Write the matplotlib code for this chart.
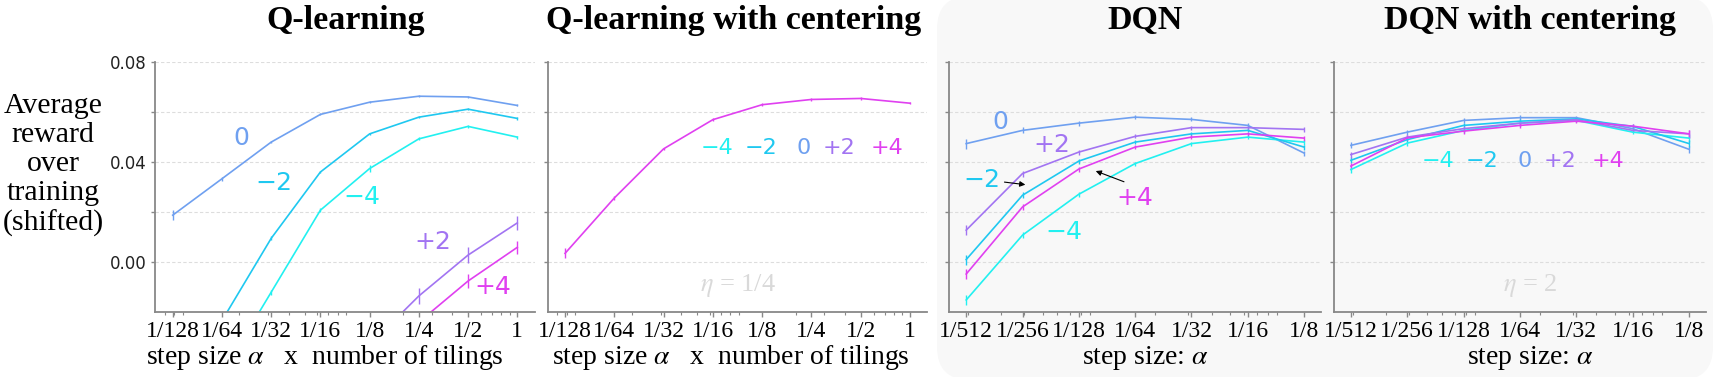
import matplotlib.pyplot as plt
from matplotlib.patches import FancyBboxPatch
from matplotlib.ticker import NullFormatter

plt.rc('font', family='Liberation Serif')
plt.rcParams['mathtext.fontset'] = 'stix'

# colours per eta shift
c_m4 = '#22f0f0'
c_m2 = '#1fc8f0'
c_0 = '#6fa0f0'
c_p2 = '#a274f2'
c_p4 = '#e040f0'

# ---- tabular Q-learning (x = step size * number of tilings)
q_x = [1/128, 1/64, 1/32, 1/16, 1/8, 1/4, 1/2, 1]
q_xlabels = ['1/128', '1/64', '1/32', '1/16', '1/8', '1/4', '1/2', '1']

q_zero = [0.0187, 0.0333, 0.0480, 0.0591, 0.0640, 0.0664, 0.0661, 0.0627]
q_minus2 = [-0.055, -0.0236, 0.0094, 0.0360, 0.0513, 0.0580, 0.0612, 0.0575]
q_minus4 = [-0.080, -0.045, -0.0122, 0.0207, 0.0374, 0.0493, 0.0543, 0.0500]
q_plus2 = [-0.130, -0.110, -0.085, -0.058, -0.0333, -0.0137, 0.0027, 0.0156]
q_plus4 = [-0.150, -0.130, -0.105, -0.075, -0.048, -0.0242, -0.0077, 0.0058]

q_zero_err = [0.002, 0.0008, 0.0004, 0.0004, 0.0004, 0.0004, 0.0004, 0.0004]
q_minus2_err = [0.002, 0.0015, 0.0008, 0.0005, 0.0005, 0.0005, 0.0005, 0.0005]
q_minus4_err = [0.002, 0.002, 0.001, 0.0008, 0.0015, 0.0006, 0.0006, 0.0006]
q_plus2_err = [0.004, 0.004, 0.004, 0.004, 0.004, 0.0033, 0.0033, 0.0027]
q_plus4_err = [0.004, 0.004, 0.004, 0.004, 0.004, 0.0033, 0.0027, 0.0027]

# with centering all five shifts lie on the same curve (+4 drawn on top)
qc_all = [0.0034, 0.0256, 0.0453, 0.0570, 0.0630, 0.0651, 0.0655, 0.0636]
qc_err = [0.002, 0.0008, 0.0005, 0.0005, 0.0005, 0.0005, 0.0005, 0.0005]

# ---- DQN
d_x = [1/512, 1/256, 1/128, 1/64, 1/32, 1/16, 1/8]
d_xlabels = ['1/512', '1/256', '1/128', '1/64', '1/32', '1/16', '1/8']

d_zero = [0.0474, 0.0527, 0.0556, 0.0580, 0.0571, 0.0547, 0.0436]
d_minus2 = [0.0009, 0.0267, 0.0404, 0.0480, 0.0513, 0.0527, 0.0460]
d_minus4 = [-0.0153, 0.0107, 0.0271, 0.0394, 0.0474, 0.0500, 0.0480]
d_plus2 = [0.0127, 0.0354, 0.0440, 0.0503, 0.0538, 0.0538, 0.0531]
d_plus4 = [-0.0049, 0.0220, 0.0372, 0.0460, 0.0500, 0.0513, 0.0496]
d_err = [0.002, 0.0012, 0.001, 0.0008, 0.0008, 0.0008, 0.001]

dc_zero = [0.0467, 0.0520, 0.0567, 0.0578, 0.0578, 0.0534, 0.0451]
dc_minus2 = [0.0407, 0.0490, 0.0547, 0.0564, 0.0573, 0.0543, 0.0474]
dc_minus4 = [0.0370, 0.0476, 0.0527, 0.0556, 0.0567, 0.0520, 0.0496]
dc_plus2 = [0.0430, 0.0500, 0.0534, 0.0556, 0.0570, 0.0527, 0.0513]
dc_plus4 = [0.0384, 0.0497, 0.0524, 0.0547, 0.0564, 0.0544, 0.0513]
dc_err = [0.0012, 0.001, 0.001, 0.001, 0.0008, 0.0008, 0.0015]

W, H = 1724, 377
fig = plt.figure(figsize=(W / 100, H / 100), dpi=100)

# light rounded panel behind the DQN plots
bg = FancyBboxPatch((9.37, -0.03), 7.76, 3.84, boxstyle='round,pad=0,rounding_size=0.33',
                    transform=fig.dpi_scale_trans, fc='#f8f8f8', ec='none', zorder=-10)
fig.add_artist(bg)

top, bot = 62.3, 311.7
def make_ax(x0, x1):
    return fig.add_axes([x0 / W, 1 - bot / H, (x1 - x0) / W, (bot - top) / H])

ax1 = make_ax(155, 535)
ax2 = make_ax(548.3, 926.7)
ax3 = make_ax(949.3, 1321)
ax4 = make_ax(1334, 1706)


def style(ax, xs, labels, pad, ylabels):
    ax.set_facecolor('none')
    ax.set_xscale('log')
    ax.set_xlim(xs[0] / 2**pad, xs[-1] * 2**pad)
    ax.set_xticks(xs, labels)
    ax.xaxis.set_minor_formatter(NullFormatter())
    ax.set_ylim(-0.02, 0.08)
    ax.set_yticks([0, 0.02, 0.04, 0.06, 0.08])
    if ylabels:
        ax.set_yticklabels(['0.00', '', '0.04', '', '0.08'])
    else:
        ax.set_yticklabels([])
    ax.grid(axis='y', ls=(0, (3, 2)), color='#dddddd', lw=0.8)
    ax.set_axisbelow(True)
    for s in ['top', 'right']:
        ax.spines[s].set_visible(False)
    for s in ['left', 'bottom']:
        ax.spines[s].set_color('#888888')
        ax.spines[s].set_linewidth(1.3)
    ax.tick_params(axis='x', which='major', length=3.5, width=1, color='#888888',
                   labelsize=17, pad=3.5)
    ax.tick_params(axis='x', which='minor', length=2, width=0.8, color='#888888')
    ax.tick_params(axis='y', length=3, width=1, color='#888888', labelsize=12,
                   labelcolor='#222222', labelfontfamily='DejaVu Sans', pad=3)


def curve(ax, xs, ys, err, color):
    ax.errorbar(xs, ys, yerr=err, color=color, lw=1.2, elinewidth=1.0, capsize=0)


style(ax1, q_x, q_xlabels, 0.36, True)
style(ax2, q_x, q_xlabels, 0.34, False)
style(ax3, d_x, d_xlabels, 0.3, False)
style(ax4, d_x, d_xlabels, 0.3, False)

curve(ax1, q_x, q_zero, q_zero_err, c_0)
curve(ax1, q_x, q_minus2, q_minus2_err, c_m2)
curve(ax1, q_x, q_minus4, q_minus4_err, c_m4)
curve(ax1, q_x, q_plus2, q_plus2_err, c_p2)
curve(ax1, q_x, q_plus4, q_plus4_err, c_p4)

curve(ax2, q_x, qc_all, qc_err, c_p4)

curve(ax3, d_x, d_zero, d_err, c_0)
curve(ax3, d_x, d_minus4, d_err, c_m4)
curve(ax3, d_x, d_minus2, d_err, c_m2)
curve(ax3, d_x, d_plus2, d_err, c_p2)
curve(ax3, d_x, d_plus4, d_err, c_p4)

curve(ax4, d_x, dc_zero, dc_err, c_0)
curve(ax4, d_x, dc_minus4, dc_err, c_m4)
curve(ax4, d_x, dc_minus2, dc_err, c_m2)
curve(ax4, d_x, dc_plus2, dc_err, c_p2)
curve(ax4, d_x, dc_plus4, dc_err, c_p4)


def lab(ax, x, y, s, color, size=18):
    ax.text(x, y, s, transform=ax.transAxes, color=color, fontsize=size,
            family='DejaVu Sans', ha='center', va='center')


lab(ax1, 0.228, 0.695, '0', c_0)
lab(ax1, 0.313, 0.515, '\u22122', c_m2)
lab(ax1, 0.544, 0.459, '\u22124', c_m4)
lab(ax1, 0.732, 0.278, '+2', c_p2)
lab(ax1, 0.889, 0.100, '+4', c_p4)

for x, s, col in zip([0.445, 0.561, 0.674, 0.769, 0.894],
                     ['\u22124', '\u22122', '0', '+2', '+4'],
                     [c_m4, c_m2, c_0, c_p2, c_p4]):
    lab(ax2, x, 0.656, s, col, 16)

for x, s, col in zip([0.279, 0.397, 0.512, 0.608, 0.737],
                     ['\u22124', '\u22122', '0', '+2', '+4'],
                     [c_m4, c_m2, c_0, c_p2, c_p4]):
    lab(ax4, x, 0.604, s, col, 16)

lab(ax3, 0.136, 0.762, '0', c_0)
lab(ax3, 0.275, 0.668, '+2', c_p2)
lab(ax3, 0.087, 0.528, '\u22122', c_m2)
lab(ax3, 0.500, 0.455, '+4', c_p4)
lab(ax3, 0.307, 0.321, '\u22124', c_m4)
ax3.annotate('', xy=(0.212, 0.508), xytext=(0.141, 0.521), xycoords='axes fraction',
             arrowprops=dict(arrowstyle='-|>', color='black', lw=0.8, mutation_scale=8))
ax3.annotate('', xy=(0.387, 0.568), xytext=(0.477, 0.517), xycoords='axes fraction',
             arrowprops=dict(arrowstyle='-|>', color='black', lw=0.8, mutation_scale=8))

ax2.text(0.501, 0.107, r'$\eta$ = 1/4', transform=ax2.transAxes, color='#d9d9d9',
         fontsize=19, ha='center', va='center')
ax4.text(0.527, 0.107, r'$\eta$ = 2', transform=ax4.transAxes, color='#d9d9d9',
         fontsize=19, ha='center', va='center')

# titles and x labels
for x, t in zip([345.5, 734, 1145, 1530],
                ['Q-learning', 'Q-learning with centering', 'DQN', 'DQN with centering']):
    fig.text(x / W, 1 - 29 / H, t, fontsize=24.5, fontweight='bold', ha='center', va='baseline')

for x, t in zip([325, 730.5, 1145, 1530],
                [r'step size $\alpha$   x  number of tilings', r'step size $\alpha$   x  number of tilings',
                 r'step size: $\alpha$', r'step size: $\alpha$']):
    fig.text(x / W, 1 - 364 / H, t, fontsize=20, ha='center', va='baseline')

fig.text(53 / W, 1 - 165 / H, 'Average\nreward\nover\ntraining\n(shifted)', fontsize=21.5,
         ha='center', va='center', multialignment='center', linespacing=1.15)

fig.savefig('out.png', dpi=100)
